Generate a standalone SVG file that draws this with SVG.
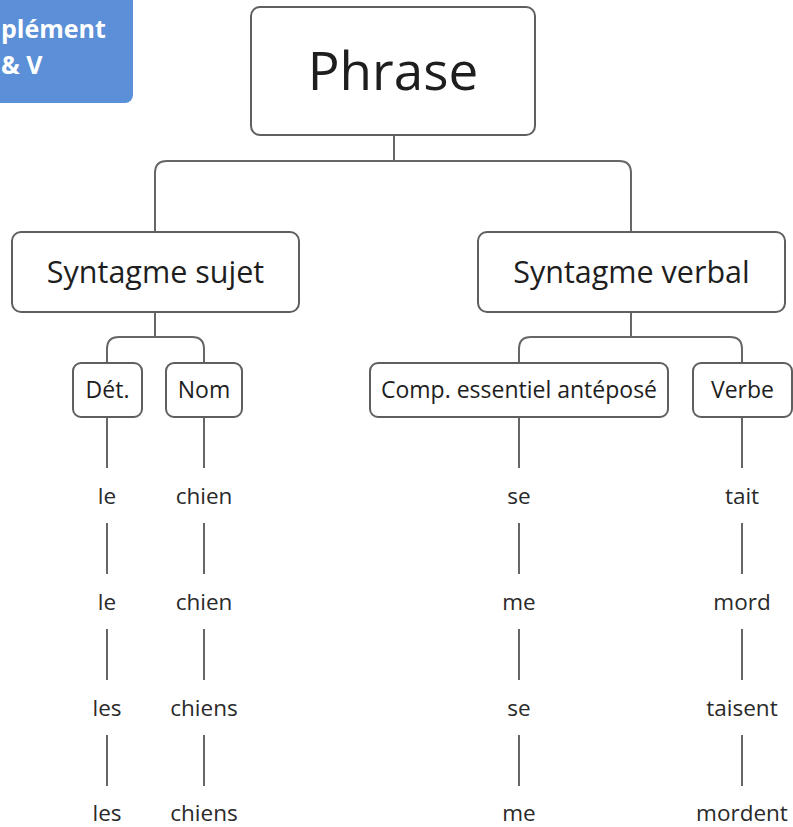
<svg xmlns="http://www.w3.org/2000/svg" width="793" height="827" viewBox="0 0 793 827">
<style>
.box{fill:#fff;stroke:#5f5f5f;stroke-width:2}
.lbl{font-family:"Open Sans","Noto Sans",sans-serif;fill:#1e1e1e;text-anchor:middle}
.leaf{font-family:"Open Sans","Noto Sans",sans-serif;fill:#2a2a2a;text-anchor:middle;font-size:22.5px}
.con{fill:none;stroke:#666;stroke-width:2}
.tagt{font-family:"Open Sans","Noto Sans",sans-serif;font-weight:bold;font-size:25px;fill:#fff}
</style>
<rect width="793" height="827" fill="#fff"/>
<g id="tag">
<rect x="-20" y="-10" width="153" height="113" rx="8" fill="#5b8fd7"/>
<text class="tagt" x="1" y="38">plément</text>
<text class="tagt" x="1" y="74">&amp; V</text>
</g>
<g id="connectors">
<path class="con" d="M394,135 V161"/>
<path class="con" d="M155,232 V173 Q155,161 167,161 H619 Q631,161 631,173 V232"/>
<path class="con" d="M155,312 V337"/>
<path class="con" d="M107,363 V349 Q107,337 119,337 H192 Q204,337 204,349 V363"/>
<path class="con" d="M631,312 V337"/>
<path class="con" d="M519,363 V349 Q519,337 531,337 H730 Q742,337 742,349 V363"/>
<g class="con">
<path d="M107,417 V468 M107,523 V574 M107,629 V680 M107,735 V786"/>
<path d="M204,417 V468 M204,523 V574 M204,629 V680 M204,735 V786"/>
<path d="M519,417 V468 M519,523 V574 M519,629 V680 M519,735 V786"/>
<path d="M742,417 V468 M742,523 V574 M742,629 V680 M742,735 V786"/>
</g>
</g>
<g id="phrase"><rect class="box" x="251" y="7" width="284" height="128" rx="9"/><text class="lbl" x="393" y="90" font-size="53">Phrase</text></g>
<g id="syntagme-sujet"><rect class="box" x="12" y="232" width="287" height="80" rx="9"/><text class="lbl" x="155.5" y="283" font-size="30.5">Syntagme sujet</text></g>
<g id="syntagme-verbal"><rect class="box" x="478" y="232" width="307" height="80" rx="9"/><text class="lbl" x="631.5" y="283" font-size="30.5">Syntagme verbal</text></g>
<g id="det"><rect class="box" x="73" y="363" width="69" height="54" rx="8"/><text class="lbl" x="107.5" y="398" font-size="23">Dét.</text></g>
<g id="nom"><rect class="box" x="166" y="363" width="76" height="54" rx="8"/><text class="lbl" x="204" y="398" font-size="23">Nom</text></g>
<g id="comp"><rect class="box" x="370" y="363" width="298" height="54" rx="8"/><text class="lbl" x="519" y="398" font-size="23">Comp. essentiel antéposé</text></g>
<g id="verbe"><rect class="box" x="693" y="363" width="99" height="54" rx="8"/><text class="lbl" x="742.5" y="398" font-size="23">Verbe</text></g>
<g id="leaves">
<text class="leaf" x="107" y="504">le</text><text class="leaf" x="204" y="504">chien</text><text class="leaf" x="519" y="504">se</text><text class="leaf" x="742" y="504">tait</text>
<text class="leaf" x="107" y="610">le</text><text class="leaf" x="204" y="610">chien</text><text class="leaf" x="519" y="610">me</text><text class="leaf" x="742" y="610">mord</text>
<text class="leaf" x="107" y="716">les</text><text class="leaf" x="204" y="716">chiens</text><text class="leaf" x="519" y="716">se</text><text class="leaf" x="742" y="716">taisent</text>
<text class="leaf" x="107" y="821">les</text><text class="leaf" x="204" y="821">chiens</text><text class="leaf" x="519" y="821">me</text><text class="leaf" x="742" y="821">mordent</text>
</g>
</svg>
